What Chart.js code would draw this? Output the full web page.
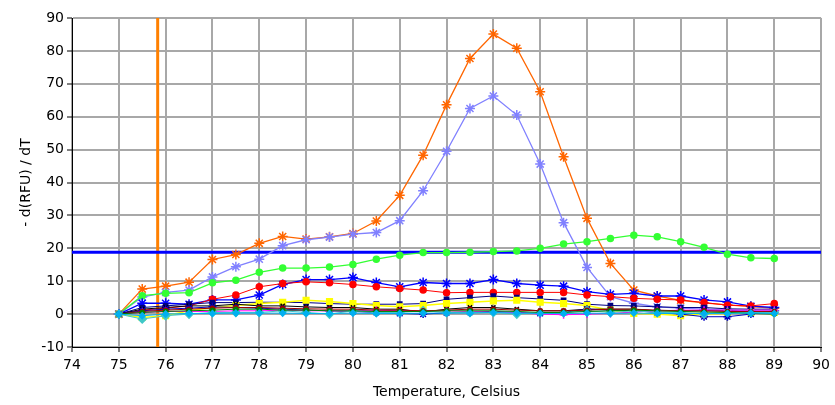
<!DOCTYPE html>
<html>
<head>
<meta charset="utf-8">
<script src="https://cdn.jsdelivr.net/npm/chart.js@4/dist/chart.umd.min.js"></script>
<style>
  html, body { margin: 0; padding: 0; background: #fff; }
</style>
</head>
<body>
<canvas id="meltChart" width="835" height="405"></canvas>
<script>
// temperatures, every half degree
var temps = [75, 75.5, 76, 76.5, 77, 77.5, 78, 78.5, 79, 79.5, 80, 80.5, 81, 81.5, 82,
             82.5, 83, 83.5, 84, 84.5, 85, 85.5, 86, 86.5, 87, 87.5, 88, 88.5, 89];

// -d(RFU)/dT per well
var orange    = [0, 7.6, 8.5, 9.7, 16.6, 18.1, 21.5, 23.6, 22.8, 23.5, 24.5, 28.3, 36.1, 48.3, 63.6,
                 77.7, 85.1, 80.8, 67.6, 47.8, 29.1, 15.4, 7.3, 5.5, 4.2, 3.4, 2.8, 2.3, 1.8];
var lightBlue = [0, 5.2, 6.6, 7.3, 11.3, 14.4, 16.7, 20.8, 22.6, 23.4, 24.3, 24.8, 28.4, 37.5, 49.5,
                 62.5, 66.3, 60.5, 45.6, 27.8, 14.2, 5.3, 3.3, 2.2, 1.8, 1.5, 1.2, 1.0, 1.0];
var green     = [0, 5.6, 6.3, 6.5, 9.5, 10.3, 12.7, 14.0, 14.0, 14.3, 15.1, 16.7, 17.9, 18.7, 18.7,
                 18.8, 19.0, 19.2, 20.0, 21.3, 22.0, 23.0, 24.0, 23.5, 22.0, 20.3, 18.2, 17.1, 16.9];
var blue      = [0, 3.3, 3.3, 3.0, 4.3, 4.3, 5.8, 9.0, 10.5, 10.5, 11.1, 9.6, 8.3, 9.6, 9.3,
                 9.3, 10.5, 9.3, 8.8, 8.5, 6.8, 6.0, 6.3, 5.5, 5.5, 4.3, 3.7, 2.4, 2.0];
var red       = [0, 1.2, 1.8, 2.5, 4.5, 5.8, 8.3, 9.3, 9.8, 9.5, 9.0, 8.3, 7.8, 7.3, 6.5,
                 6.6, 6.6, 6.6, 6.6, 6.6, 5.8, 5.3, 4.8, 4.5, 4.3, 3.5, 2.7, 2.5, 3.2];
var navy      = [0, 2.0, 2.5, 3.0, 3.5, 3.5, 3.6, 3.6, 3.5, 3.2, 3.0, 3.0, 3.0, 3.2, 4.5,
                 5.0, 5.5, 5.0, 4.6, 4.2, 3.0, 2.6, 2.5, 2.2, 2.0, 2.0, 1.6, 1.5, 1.5];
var yellow    = [0, -1.0, -0.5, 1.0, 2.0, 2.6, 3.2, 3.6, 4.2, 3.8, 3.2, 2.6, 2.2, 2.6, 3.2,
                 3.6, 4.0, 4.2, 3.6, 3.2, 2.6, 1.2, 0.2, 0.0, -0.5, 0.0, 0.2, 0.5, 0.5];
var black     = [0, 1.5, 2.0, 2.5, 2.5, 3.0, 2.5, 2.5, 2.2, 2.0, 2.0, 1.5, 1.5, 0.6, 1.5,
                 2.0, 2.0, 1.5, 1.0, 1.0, 1.5, 1.5, 1.5, 1.0, 1.0, 1.0, 1.0, 0.6, 0.5];
var darkBlue  = [0, 1.0, 1.5, 1.8, 2.2, 2.0, 1.8, 1.5, 1.2, 1.0, 0.8, 0.5, 0.2, 0.0, 0.4,
                 0.6, 0.8, 0.5, 0.2, 0.5, 1.5, 1.2, 1.0, 0.5, 0.0, -0.8, -0.8, 0.0, 1.0];
var darkRed   = [0, 0.8, 1.2, 1.5, 1.8, 2.0, 2.0, 1.8, 1.6, 1.5, 1.5, 1.2, 1.2, 1.0, 1.2,
                 1.5, 1.5, 1.2, 1.0, 1.0, 1.2, 1.5, 1.5, 1.2, 1.0, 1.0, 0.8, 0.8, 0.8];
var darkGreen = [0, 0.5, 0.8, 1.0, 1.2, 1.5, 1.5, 1.2, 1.2, 1.0, 1.0, 0.8, 0.8, 0.8, 1.0,
                 1.0, 1.0, 0.8, 0.5, 0.5, 0.8, 1.0, 1.2, 1.0, 0.8, 0.6, 0.5, 0.2, 0.0];
var cyan      = [0, -1.5, -0.5, 0.0, 0.5, 0.5, 0.5, 1.0, 0.5, 0.0, 1.0, 0.5, 0.5, 1.0, 0.5,
                 0.5, 0.5, 0.0, 0.5, 0.5, 1.0, 0.5, 1.0, 0.5, 0.5, 0.0, 0.5, 0.5, 0.5];
var magenta   = [0, 0.5, 0.8, 0.8, 0.8, 1.0, 1.0, 1.2, 1.0, 1.0, 1.0, 1.2, 1.0, 1.0, 1.0,
                 0.8, 0.6, 0.4, 0.0, -0.2, 0.0, 0.2, 0.6, 1.0, 1.2, 1.2, 1.2, 1.2, 1.2];
var skyBlue   = [0, -0.5, 0.0, 0.2, 0.2, 0.3, 0.3, 0.3, 0.2, 0.2, 0.3, 0.2, 0.2, 0.3, 0.3,
                 0.3, 0.5, 0.3, 0.2, 0.2, 0.3, 0.2, 0.3, 0.2, 0.2, 0.2, 0.2, 0.3, 0.2];

// threshold and cursor
var thresholdY = 18.8;
var cursorX = 75.83;

var xTicks = [74, 90, 1];
var yTicks = [-10, 90, 10];

function series(vals, color, style, radius, lw) {
  return {
    data: temps.map(function (t, i) { return { x: t, y: vals[i] }; }),
    borderColor: color,
    backgroundColor: color,
    borderWidth: lw || 1,
    pointStyle: style,
    pointRadius: radius,
    pointBorderWidth: 1.5,
    pointBackgroundColor: color,
    pointBorderColor: color
  };
}

var datasets = [
  series(skyBlue, '#00b0f0', 'rectRot', 3),
  series(darkGreen, '#008000', 'circle', 2),
  series(darkRed, '#a00000', 'circle', 2),
  series(cyan, '#40c8c8', 'rectRot', 4),
  series(magenta, '#ff00ff', 'cross', 4),
  series(darkBlue, '#0000c0', 'star', 4),
  series(black, '#000000', 'crossRot', 3),
  series(yellow, '#ffff00', 'rect', 4, 1.5),
  series(navy, '#000080', 'rect', 3),
  series(red, '#ff0000', 'circle', 3),
  series(blue, '#0000ff', 'star', 5, 1.3),
  series(green, '#33ff33', 'circle', 3, 1.3),
  series(lightBlue, '#8080ff', 'star', 5, 1.3),
  series(orange, '#ff6600', 'star', 5, 1.3),
  {
    data: [{ x: xTicks[0], y: thresholdY }, { x: xTicks[1], y: thresholdY }],
    borderColor: '#0000ff', borderWidth: 3, pointRadius: 0
  },
  {
    data: [{ x: cursorX, y: yTicks[0] }, { x: cursorX, y: yTicks[1] }],
    borderColor: '#ff8000', borderWidth: 3, pointRadius: 0
  }
];

var tickFont = { family: 'DejaVu Sans', size: 14 };
var titleFont = { family: 'DejaVu Sans', size: 14 };

var ctx = document.getElementById('meltChart').getContext('2d');
var chart = new Chart(ctx, {
  type: 'line',
  data: { datasets: datasets },
  options: {
    responsive: false,
    animation: false,
    layout: { padding: { top: 18, right: 10, left: 0, bottom: 0 } },
    plugins: { legend: { display: false }, tooltip: { enabled: false } },
    scales: {
      x: {
        type: 'linear',
        min: xTicks[0], max: xTicks[1],
        ticks: { stepSize: xTicks[2], color: '#000', font: tickFont, padding: 5, maxRotation: 0 },
        grid: { color: '#a8a8a8', lineWidth: 2, tickColor: '#000', tickLength: 5, tickWidth: 1 },
        border: { color: '#000', width: 1 },
        title: { display: true, text: 'Temperature, Celsius', color: '#000', font: titleFont, padding: { top: 10 } },
        afterFit: function (s) { s.height = 58; }
      },
      y: {
        min: yTicks[0], max: yTicks[1],
        ticks: { stepSize: yTicks[2], color: '#000', font: tickFont, padding: 3 },
        grid: { color: '#a8a8a8', lineWidth: 2, tickColor: '#000', tickLength: 5, tickWidth: 1 },
        border: { color: '#000', width: 1 },
        title: { display: true, text: '- d(RFU) / dT', color: '#000', font: titleFont, padding: { top: 18, bottom: 0 } },
        afterFit: function (s) { s.width = 72; }
      }
    }
  }
});
</script>
</body>
</html>
